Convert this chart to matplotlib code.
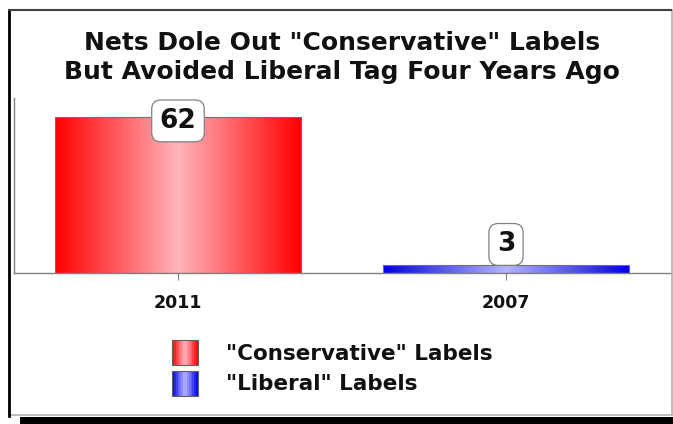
import numpy as np
import matplotlib
matplotlib.use("Agg")
from matplotlib import pyplot as plt
from matplotlib.colors import LinearSegmentedColormap
from matplotlib.patches import Rectangle, Patch
from matplotlib.legend_handler import HandlerBase

# chart data
years = ["2011", "2007"]
counts = [62, 3]
series_names = ['"Conservative" Labels', '"Liberal" Labels']
title = 'Nets Dole Out "Conservative" Labels\nBut Avoided Liberal Tag Four Years Ago'

# edge / centre colours of the shaded bars
edge_colors = ["#ff0000", "#0000e6"]
mid_colors = ["#ffb4bc", "#b4b4ff"]
label_offsets = [-4, 21]  # px, box centre relative to bar top


def shade_map(edge, mid):
    return LinearSegmentedColormap.from_list("shade", [edge, mid, edge])


class GradientHandler(HandlerBase):
    """Legend swatch drawn as vertical strips (fake gradient)."""
    def __init__(self, cmap):
        super().__init__()
        self.cmap = cmap

    def create_artists(self, legend, orig_handle, xdescent, ydescent,
                       width, height, fontsize, trans):
        n = 14
        arts = []
        for i in range(n):
            r = Rectangle((-xdescent + i * width / n, -ydescent), width / n + 0.3, height,
                          facecolor=self.cmap((i + 0.5) / n), edgecolor="none",
                          transform=trans)
            arts.append(r)
        arts.append(Rectangle((-xdescent, -ydescent), width, height, facecolor="none",
                              edgecolor="#606060", lw=0.8, transform=trans))
        return arts


fig = plt.figure(figsize=(6.73, 4.24), dpi=100)
W, H = 673.0, 424.0

# outer frame + shadow (behind the axes)
fig.patches.append(Rectangle((20 / W, 0), 653 / W, 7 / H, transform=fig.transFigure,
                             facecolor="black", edgecolor="none", zorder=-3))
fig.patches.append(Rectangle((8.5 / W, (H - 415) / H), 663 / W, 405 / H,
                             transform=fig.transFigure, facecolor="white",
                             edgecolor="#b0b0b0", lw=1.2, zorder=-2))
fig.lines.append(plt.Line2D([8.5 / W, 8.5 / W], [(H - 416) / H, (H - 10) / H],
                            transform=fig.transFigure, color="black", lw=2, zorder=-1))
fig.lines.append(plt.Line2D([8.5 / W, 671 / W], [(H - 10) / H, (H - 10) / H],
                            transform=fig.transFigure, color="#404040", lw=1.5, zorder=-1))

ax = fig.add_axes([14 / W, (H - 273) / H, 656 / W, 175 / H])
ax.set_facecolor("none")

x = np.arange(len(years))
bars = ax.bar(x, counts, width=0.75, color="none", edgecolor="#707070", lw=0.8, zorder=3)

cmaps = []
for b, e, m in zip(bars, edge_colors, mid_colors):
    cm = shade_map(e, m)
    cmaps.append(cm)
    grad = np.linspace(0, 1, 256).reshape(1, -1)
    x0, y0 = b.get_x(), b.get_y()
    im = ax.imshow(grad, cmap=cm, aspect="auto", interpolation="bilinear",
                   extent=[x0, x0 + b.get_width(), y0, y0 + b.get_height()], zorder=2)
    im.set_clip_path(b)

ax.set_xlim(-0.5, 1.5)
ax.set_ylim(0, 69.5)

# value labels
for xi, v, off in zip(x, counts, label_offsets):
    ax.annotate(str(v), (xi, v), xytext=(0, off * 72 / 100), textcoords="offset points",
                ha="center", va="center", fontsize=19, fontweight="bold", color="#111111",
                bbox=dict(boxstyle="round,pad=0.3,rounding_size=0.35", fc="white",
                          ec="#808080", lw=0.9), zorder=5)

for s in ["top", "right"]:
    ax.spines[s].set_visible(False)
for s in ["left", "bottom"]:
    ax.spines[s].set_color("#808080")
    ax.spines[s].set_linewidth(1.0)
ax.set_yticks([])
ax.set_xticks(x)
ax.set_xticklabels(years, fontsize=12.5, fontweight="bold", color="#111111")
ax.tick_params(axis="x", length=5, color="#808080", pad=10)

fig.text(0.508, (H - 57.5) / H, title, ha="center", va="center", fontsize=18,
         fontweight="bold", color="#111111", linespacing=1.22)

handles = [Patch(label=n) for n in series_names]
fig.legend(handles, series_names,
           handler_map={handles[0]: GradientHandler(cmaps[0]),
                        handles[1]: GradientHandler(cmaps[1])},
           loc="upper left", bbox_to_anchor=(172 / W, (H - 340) / H),
           frameon=False, borderpad=0, borderaxespad=0,
           prop=dict(size=15.5, weight="bold"), handlelength=1.21, handleheight=1.43,
           handletextpad=1.3, labelspacing=0.25, labelcolor="#111111")

fig.savefig("out.png", dpi=100)
